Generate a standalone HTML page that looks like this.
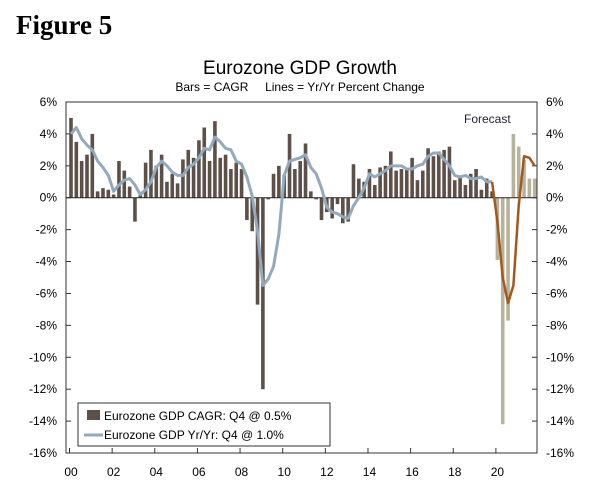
<!DOCTYPE html>
<html><head><meta charset="utf-8"><style>
body{margin:0;background:#fff;width:600px;height:487px;overflow:hidden}
text{font-family:"Liberation Sans",sans-serif}
</style></head><body>
<svg id="chart" width="600" height="487" xmlns="http://www.w3.org/2000/svg">
<text x="16" y="34" style="font-family:'Liberation Serif',serif;font-weight:bold;font-size:27px">Figure 5</text>
<text x="300" y="74" text-anchor="middle" font-size="19">Eurozone GDP Growth</text>
<text x="300" y="91" text-anchor="middle" font-size="12" style="white-space:pre">Bars = CAGR     Lines = Yr/Yr Percent Change</text>
<g id="g"></g>
</svg>
<script>
const cagr=[5.0,3.5,2.3,2.7,4.0,0.4,0.6,0.5,0.2,2.3,1.7,0.7,-1.5,0.3,2.2,3.0,2.0,2.7,1.0,1.5,0.9,2.4,3.0,2.5,3.6,4.4,2.3,4.8,2.5,2.7,1.8,2.2,1.8,-1.4,-2.1,-6.7,-12.0,-0.1,1.5,2.0,1.4,4.0,1.8,2.3,3.4,0.4,-0.1,-1.4,-0.9,-1.3,-0.4,-1.6,-1.5,2.1,1.2,1.0,1.8,0.8,1.9,2.0,2.9,1.7,1.8,1.8,2.5,1.1,1.7,3.1,2.6,2.9,3.0,3.2,1.1,1.4,0.8,1.5,1.8,0.5,1.2,0.4,-3.9,-14.2,-7.7,4.0,3.2,2.4,1.2,1.2];
const yoy=[4.0,4.4,3.7,3.3,3.0,2.3,1.9,1.4,0.4,0.8,1.1,1.2,0.8,0.2,0.5,1.0,1.9,2.3,2.0,1.6,1.4,1.4,1.9,2.1,2.5,3.1,3.0,3.8,3.5,3.1,3.0,2.3,2.1,1.3,0.1,-2.1,-5.5,-5.1,-4.3,-2.3,1.4,2.3,2.4,2.5,2.7,1.9,1.5,0.6,-0.6,-0.9,-1.0,-1.2,-1.3,-0.5,0.0,0.6,1.5,1.3,1.5,1.7,2.0,2.0,2.0,1.8,1.8,2.0,2.1,2.6,2.8,2.8,2.4,2.0,1.4,1.3,1.4,1.2,1.2,1.3,1.0,1.0];
const fcst=[1.0,-1.5,-5.0,-6.6,-5.5,-0.5,2.6,2.5,2.0];
const fcstStart=79, forecastBarStart=80;
const yTicks=[6,4,2,0,-2,-4,-6,-8,-10,-12,-14,-16];
const xLabels=["00","02","04","06","08","10","12","14","16","18","20"];
const NS="http://www.w3.org/2000/svg",g=document.getElementById('g');
const L=66,R=537,T=102,B=453;
const y=v=>T+(6-v)*(B-T)/22;
const x=i=>71+i*5.33;
function el(t,a){const e=document.createElementNS(NS,t);for(const k in a)e.setAttribute(k,a[k]);g.appendChild(e);return e;}
let e=el('rect',{x:L,y:T,width:R-L,height:B-T,fill:'none',stroke:'#333','stroke-width':1});

yTicks.forEach(v=>{
 let t=el('line',{x1:L,x2:L+5,y1:y(v),y2:y(v),stroke:'#333'});
 
 t=el('line',{x1:R-5,x2:R,y1:y(v),y2:y(v),stroke:'#333'});
 
 let a=el('text',{x:L-9,y:y(v)+4,'text-anchor':'end','font-size':12});a.textContent=v+'%';
 
 a=el('text',{x:R+9,y:y(v)+4,'font-size':12});a.textContent=v+'%';
 
});
xLabels.forEach((s,k)=>{
 const xi=x(k*8)-1.5;
 let t=el('line',{x1:xi,x2:xi,y1:B,y2:B-5,stroke:'#333'});
 
 let a=el('text',{x:x(k*8),y:476,'text-anchor':'middle','font-size':12});a.textContent=s;
 
});
cagr.forEach((v,i)=>{
 const r=el('rect',{x:x(i)-1.8,y:Math.min(y(v),y(0)),width:3.6,height:Math.abs(y(v)-y(0)),fill:i>=forecastBarStart?'#b7b39a':'#5e5048'});
 
});
e=el('line',{x1:L,x2:R,y1:y(0),y2:y(0),stroke:'#222'});

e=el('polyline',{points:yoy.map((v,i)=>x(i)+','+y(v)).join(' '),fill:'none',stroke:'#92a9be','stroke-width':3,'stroke-linejoin':'round'});

e=el('polyline',{points:fcst.map((v,i)=>x(i+fcstStart)+','+y(v)).join(' '),fill:'none',stroke:'#a3581e','stroke-width':2.5,'stroke-linejoin':'round'});

e=el('text',{x:464,y:123,'font-size':12,fill:'#223'});e.textContent='Forecast';

e=el('rect',{x:78,y:403,width:252,height:43,fill:'#fff',stroke:'#333'});

e=el('rect',{x:87,y:410,width:13,height:10,fill:'#5e5048'});

e=el('text',{x:104,y:420,'font-size':12});e.textContent='Eurozone GDP CAGR: Q4 @ 0.5%';

e=el('line',{x1:84,x2:103,y1:435,y2:435,stroke:'#92a9be','stroke-width':3});

e=el('text',{x:104,y:439,'font-size':12});e.textContent='Eurozone GDP Yr/Yr: Q4 @ 1.0%';

</script>
</body></html>
